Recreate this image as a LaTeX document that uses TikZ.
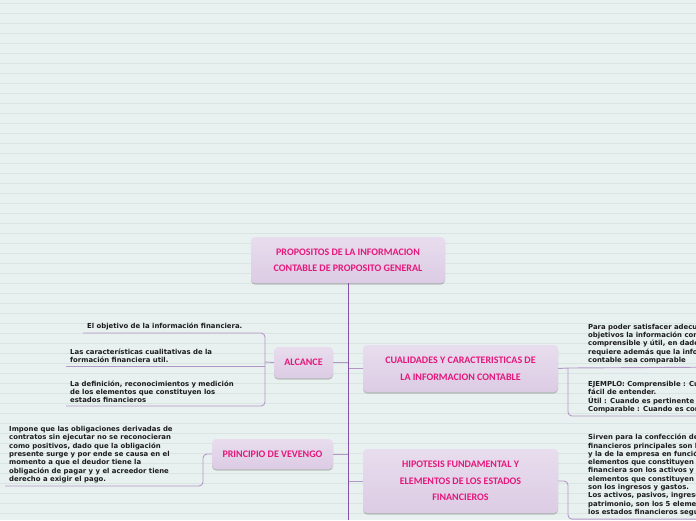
\documentclass[tikz,border=0pt]{standalone}
\usepackage{fontspec}
\newfontfamily\fogliafont{DejaVu Sans}
\newfontfamily\titolofont{Carlito}
\usepackage{tikz}
\usetikzlibrary{calc, shadows}

\definecolor{sfondo}{HTML}{E8F1F0}
\definecolor{righe}{HTML}{D9E5E2}
\definecolor{viola}{HTML}{8451A6}
\definecolor{lavanda}{HTML}{B398C7}
\definecolor{rosa}{HTML}{E5177B}
\definecolor{lilla}{HTML}{E8DDEE}
\definecolor{lillascuro}{HTML}{DCCBE4}
\definecolor{testo}{HTML}{1C1C1C}

\tikzset{
  tema/.style={rounded corners=4pt, top color=lilla, bottom color=lillascuro, draw=none,
    drop shadow={shadow xshift=0pt, shadow yshift=-1.5pt, fill=black!50, opacity=.45},
    font=\titolofont\bfseries\fontsize{10}{16.5}\selectfont, text=rosa, align=center, inner sep=0pt},
  foglia/.style={anchor=south west, align=left, inner xsep=4pt, inner ysep=3pt,
    font=\fogliafont\bfseries\fontsize{6.9}{8.3}\selectfont, text=testo},
  tronco/.style={draw=viola, line width=1pt},
  ramo/.style={draw=lavanda, line width=0.9pt, rounded corners=4pt},
}

\begin{document}
\begin{tikzpicture}[x=1pt, y=-1pt]

% sfondo a righe
\path[use as bounding box, fill=sfondo] (0,0) rectangle (696,520);
\foreach \y in {3.5,13.5,...,513.5}
  \draw[righe, line width=0.6pt] (0,\y) -- (696,\y);

% nodi principali
\node[tema, minimum width=194pt, minimum height=46pt] (radice) at (348,260) {PROPOSITOS DE LA INFORMACION\\CONTABLE DE PROPOSITO GENERAL};
\node[tema, minimum width=59pt, minimum height=31pt] (alcance) at (303.5,362.5) {ALCANCE};
\node[tema, minimum width=121pt, minimum height=30pt] (devengo) at (272.5,454) {PRINCIPIO DE VEVENGO};
\node[tema, minimum width=195pt, minimum height=47pt] (cualidades) at (460.5,368.5) {CUALIDADES Y CARACTERISTICAS DE\\LA INFORMACION CONTABLE};
\node[tema, minimum width=195pt, minimum height=64pt] (hipotesis) at (460.5,481) {HIPOTESIS FUNDAMENTAL Y\\ELEMENTOS DE LOS ESTADOS\\FINANCIEROS};

% foglie alcance
\node[foglia] (objetivo) at (83,333) {El objetivo de la información financiera.};
\node[foglia] (caracteristicas) at (66,366) {Las características cualitativas de la\\formación financiera util.};
\node[foglia] (definicion) at (66,406) {La definición, reconocimientos y medición\\de los elementos que constituyen los\\estados financieros};

% foglia devengo
\node[foglia] (impone) at (5,486) {Impone que las obligaciones derivadas de\\contratos sin ejecutar no se reconocieran\\como positivos, dado que la obligación\\presente surge y por ende se causa en el\\momento a que el deudor tiene la\\obligación de pagar y y el acreedor tiene\\derecho a exigir el pago.};

% foglie cualidades
\node[foglia] (satisfacer) at (584,367) {Para poder satisfacer adecuadamente\\objetivos la información contable\\comprensible y útil, en dado\\requiere además que la información\\contable sea comparable};
\node[foglia] (ejemplo) at (584,416) {EJEMPLO: Comprensible : Cuando\\fácil de entender.\\Útil : Cuando es pertinente y\\Comparable : Cuando es comparable};

% foglia hipotesis
\node[foglia, anchor=north west] (sirven) at (584,431) {Sirven para la confección de\\financieros principales son la\\y la de la empresa en función\\elementos que constituyen\\financiera son los activos y\\elementos que constituyen\\son los ingresos y gastos.\\Los activos, pasivos, ingresos\\patrimonio, son los 5 elementos\\los estados financieros según};

% ganci
\coordinate (ga) at (265,362);
\coordinate (gd) at (203,454);
\coordinate (gc) at (568,368);
\coordinate (gh) at (568,481);
\coordinate (fondo) at (348,520);

% rami verso le foglie
\draw[ramo] (objetivo.south west) -- (objetivo.south west -| ga) -- (definicion.south west -| ga) -- (definicion.south west);
\draw[ramo] (caracteristicas.south west) -- (caracteristicas.south west -| ga);
\draw[ramo] (alcance.west) -- (ga);
\draw[ramo] (devengo.west) -- (gd) -- (gd |- impone.south west) -- (impone.south west);
\draw[ramo] (cualidades.east) -- (gc) -- (satisfacer.south east);
\draw[ramo] (gc) -- (gc |- ejemplo.south west) -- (ejemplo.south east);
\draw[ramo] (hipotesis.east) -- (gh) -- (gh |- sirven.south west) -- (sirven.south east);

% rami verso il tronco
\draw[ramo] (alcance.east) -- (alcance.east -| radice.south);
\draw[ramo] (devengo.east) -- (devengo.east -| radice.south);
\draw[ramo] (cualidades.west) -- (cualidades.west -| radice.south);
\draw[ramo] (hipotesis.west) -- (hipotesis.west -| radice.south);

% tronco
\draw[tronco] (radice.south) -- (fondo);

\end{tikzpicture}
\end{document}
